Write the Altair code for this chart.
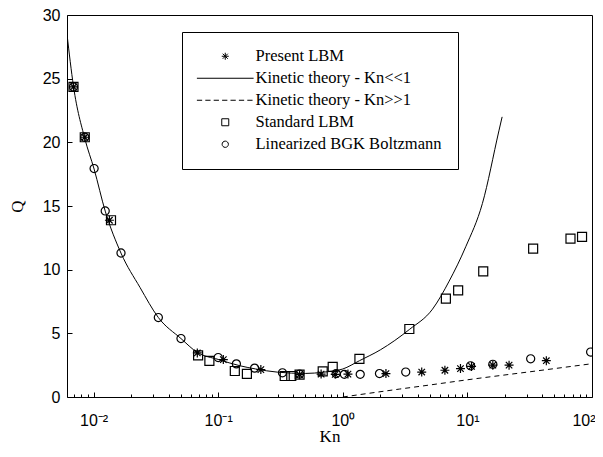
import altair as alt
import pandas as pd

SERIF = "Liberation Serif"
SANS = "Liberation Sans"

series_names = ["Present LBM", "Kinetic theory - Kn<<1", "Kinetic theory - Kn>>1",
                "Standard LBM", "Linearized BGK Boltzmann"]

# Present LBM (asterisks)
lbm_kn = [0.0069, 0.0085, 0.0134, 0.068, 0.11, 0.22, 0.45, 0.67, 0.87, 1.1,
          2.22, 4.3, 6.6, 8.8, 10.8, 16.0, 21.6, 43.0]
lbm_q = [24.35, 20.4, 13.88, 3.46, 2.94, 2.15, 1.75, 1.8, 1.78, 1.8,
         1.84, 1.96, 2.1, 2.23, 2.4, 2.5, 2.5, 2.85]

# Standard LBM (squares)
std_kn = [0.0069, 0.0085, 0.0138, 0.069, 0.085, 0.136, 0.17, 0.342, 0.386, 0.45,
          0.69, 0.83, 1.36, 3.42, 6.72, 8.43, 13.4, 33.7, 67.2, 83.2]
std_q = [24.35, 20.4, 13.88, 3.27, 2.83, 2.04, 1.82, 1.65, 1.65, 1.75,
         2.02, 2.36, 3.0, 5.34, 7.73, 8.38, 9.87, 11.66, 12.44, 12.57]

# Linearized BGK Boltzmann (circles)
bgk_kn = [0.0069, 0.0085, 0.0101, 0.0124, 0.0166, 0.0331, 0.0503, 0.1, 0.14, 0.196,
          0.328, 0.45, 0.885, 1.03, 1.38, 1.97, 3.2, 10.6, 16.0, 32.2, 97.5]
bgk_q = [24.35, 20.4, 17.94, 14.61, 11.31, 6.24, 4.59, 3.1, 2.6, 2.27,
         1.9, 1.8, 1.84, 1.78, 1.78, 1.84, 1.96, 2.45, 2.57, 3.0, 3.53]

# Kinetic theory - Kn<<1 (solid curve)
ks_kn = [0.00612, 0.0069, 0.0085, 0.0101, 0.0124, 0.0166, 0.0236, 0.0331, 0.0503,
         0.068, 0.1, 0.15, 0.2, 0.3, 0.5, 0.7, 1.0, 1.36, 2.0, 3.42, 5.25, 7.14,
         9.7, 13.2, 17.9, 19.0]
ks_q = [28.5, 24.4, 20.3, 17.9, 14.6, 11.3, 8.6, 6.24, 4.59,
        3.5, 2.95, 2.45, 2.2, 1.95, 1.85, 1.95, 2.2, 2.85, 3.7, 5.3, 6.9, 9.1,
        11.8, 15.2, 20.9, 22.0]

# Kinetic theory - Kn>>1 (dashed curve)
kl_kn = [1.0, 2.84, 4.4, 10.9, 30.0, 94.0]
kl_q = [0.0, 0.62, 0.87, 1.4, 1.95, 2.58]

x_major = [0.01, 0.1, 1, 10, 100]
x_minor = [0.007, 0.008, 0.009, 0.02, 0.03, 0.04, 0.05, 0.06, 0.07, 0.08, 0.09,
           0.2, 0.3, 0.4, 0.5, 0.6, 0.7, 0.8, 0.9, 2, 3, 4, 5, 6, 7, 8, 9,
           20, 30, 40, 50, 60, 70, 80, 90]
y_ticks = [0, 5, 10, 15, 20, 25, 30]

STAR = "M-1,0H1M0,-1V1M-0.72,-0.72L0.72,0.72M-0.72,0.72L0.72,-0.72"
LINE = "M-8.1,0H8.1"
DASH = "M-8.1,0H-6.6M-5.7,0H-4.2M-3.3,0H-1.8M-0.9,0H0.6M1.5,0H3M3.9,0H5.4M6.3,0H7.8"
SQUARE = "square"
CIRCLE = "M-0.9,0A0.9,0.9,0,1,0,0.9,0A0.9,0.9,0,1,0,-0.9,0Z"
shape_range = [STAR, LINE, DASH, SQUARE, CIRCLE]

pts = pd.DataFrame({
    "Kn": lbm_kn + std_kn + bgk_kn,
    "Q": lbm_q + std_q + bgk_q,
    "series": [series_names[0]] * len(lbm_kn) + [series_names[3]] * len(std_kn)
              + [series_names[4]] * len(bgk_kn),
})
small = pd.DataFrame({"Kn": ks_kn, "Q": ks_q})
large = pd.DataFrame({"Kn": kl_kn, "Q": kl_q})

W, H = 525, 382
xs = alt.Scale(type="log", domain=[0.00612, 100], nice=False)
ys = alt.Scale(domain=[0, 30], nice=False, zero=False)

e = "round(log(datum.value)/LN10)"
label_expr = (f"{e} == -2 ? '10⁻²' : {e} == -1 ? '10⁻¹' : {e} == 0 ? '10⁰' : "
              f"{e} == 1 ? '10¹' : '10²'")

x_main = alt.X("Kn:Q", scale=xs, axis=alt.Axis(
    values=x_major, labelExpr=label_expr, ticks=False, tickSize=0, domain=False,
    grid=False, title="Kn", labelFont=SANS, labelFontSize=16, labelPadding=15,
    labelColor="black", labelFlush=True, labelFlushOffset=3, titleFont=SERIF,
    titleFontSize=17, titleFontWeight="normal", titleColor="black", titlePadding=0))
y_main = alt.Y("Q:Q", scale=ys, axis=alt.Axis(
    values=y_ticks, ticks=False, tickSize=0, domain=False, grid=False, title="Q",
    labelFont=SANS, labelFontSize=16, labelPadding=7, labelColor="black",
    labelFlush=False, titleFont=SERIF, titleFontSize=17, titleFontWeight="normal",
    titleColor="black", titlePadding=16))

x_major_ticks = alt.X("Kn:Q", scale=xs, axis=alt.Axis(
    orient="top", offset=-H, values=x_major, labels=False, domain=False, grid=False,
    tickSize=5, tickColor="black", title=None))
y_major_ticks = alt.Y("Q:Q", scale=ys, axis=alt.Axis(
    orient="right", offset=-W, values=y_ticks, labels=False, domain=False, grid=False,
    tickSize=5, tickColor="black", title=None))
x_minor_ticks = alt.X("Kn:Q", scale=xs, axis=alt.Axis(
    orient="top", offset=-H, values=x_minor, labels=False, domain=False, grid=False,
    tickSize=3, tickColor="black", title=None))

solid = alt.Chart(small).mark_line(color="black", strokeWidth=1, interpolate="monotone",
                                   clip=True).encode(x=x_main, y=y_main)
dashed = alt.Chart(large).mark_line(color="black", strokeWidth=1, strokeDash=[5, 4],
                                    interpolate="monotone", clip=True).encode(
    x=x_major_ticks, y=y_major_ticks)
points = alt.Chart(pts).mark_point(filled=False, color="black", strokeWidth=1.2, size=81,
                                   opacity=1, clip=True).encode(
    x=x_minor_ticks,
    y=alt.Y("Q:Q", scale=ys, axis=None),
    shape=alt.Shape("series:N", scale=alt.Scale(domain=series_names, range=shape_range),
                    legend=alt.Legend(
                        orient="none", legendX=115, legendY=17, title=None,
                        fillColor="white", strokeColor="black", padding=16,
                        symbolSize=49, symbolStrokeWidth=1, symbolStrokeColor="black",
                        symbolFillColor="transparent", symbolOffset=19, labelOffset=22,
                        labelFont=SERIF, labelFontSize=16.5, labelColor="black",
                        labelLimit=400, rowPadding=5)),
)

chart = alt.layer(solid, dashed, points).resolve_axis(
    x="independent", y="independent"
).properties(
    width=W, height=H,
    autosize=alt.AutoSizeParams(type="none"),
    padding={"left": 59, "top": 7, "right": 3, "bottom": 48},
    background="white",
).configure_view(stroke="black", strokeWidth=1)

chart.save("out.html", embed_options={"renderer": "svg", "actions": False})
